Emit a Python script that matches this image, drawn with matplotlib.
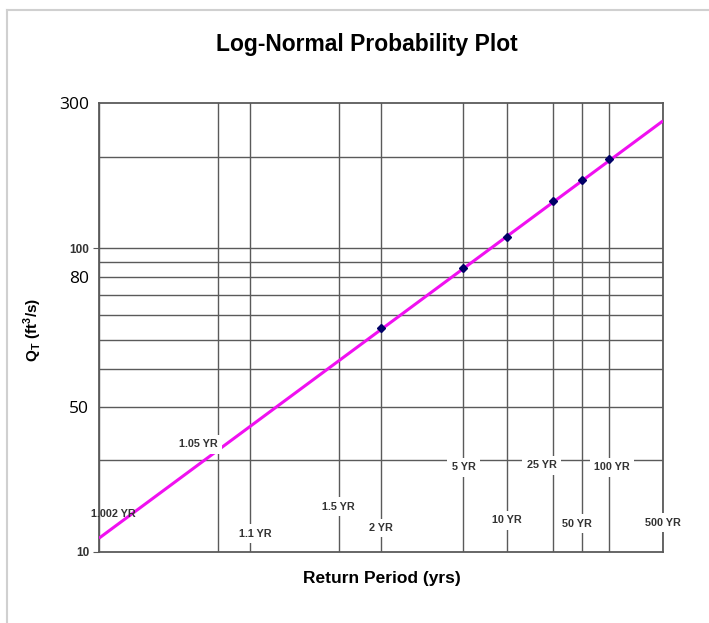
import numpy as np
import matplotlib
matplotlib.use("Agg")
import matplotlib.pyplot as plt
from matplotlib.lines import Line2D
from statistics import NormalDist

plt.rcParams['font.family'] = ['Liberation Sans', 'DejaVu Sans']
plt.rcParams['mathtext.fontset'] = 'custom'
plt.rcParams['mathtext.rm'] = 'Liberation Sans'
plt.rcParams['mathtext.bf'] = 'Liberation Sans:bold'

# return periods drawn as vertical grid lines (yrs)
periods = [1.002, 1.05, 1.1, 1.5, 2, 5, 10, 25, 50, 100, 500]
period_labels = ['1.002 YR', '1.05 YR', '1.1 YR', '1.5 YR', '2 YR', '5 YR',
                 '10 YR', '25 YR', '50 YR', '100 YR', '500 YR']

# observed points (return period, flow)
obs_T = [2, 5, 10, 25, 50, 100]
obs_Q = [54.5, 86.0, 108.7, 142.8, 167.4, 196.2]

# fitted log-normal line, end points
fit_T = [1.002, 500]
fit_Q = [11.1, 262]

# y axis
q_grid = [20, 30, 40, 50, 60, 70, 80, 90, 100, 200]
q_tick_pos = [10, 30, 80, 100, 300]
q_tick_labels = ['10', '50', '80', '100', '300']

_nd = NormalDist()


def period_to_z(T):
    T = np.asarray(T, dtype=float)
    p = 1.0 - 1.0 / np.clip(T, 1.0 + 1e-9, 1e12)
    p = np.clip(p, 1e-12, 1 - 1e-12)
    return np.vectorize(_nd.inv_cdf, otypes=[float])(p)


def z_to_period(z):
    z = np.asarray(z, dtype=float)
    cdf = np.vectorize(_nd.cdf, otypes=[float])(z)
    return 1.0 / np.clip(1.0 - cdf, 1e-12, None)


W, H = 709, 623
fig = plt.figure(figsize=(W / 100, H / 100), dpi=100)
ax = fig.add_axes([99 / W, 71 / H, 564 / W, 449 / H])

ax.set_xscale('function', functions=(period_to_z, z_to_period))
ax.set_yscale('log')
ax.set_xlim(1.002, 500)
ax.set_ylim(10, 300)

grid_col = '#5a5a5a'
ax.set_xticks(periods, labels=[''] * len(periods))
ax.set_yticks(q_tick_pos, labels=q_tick_labels)
ax.set_yticks(q_grid, minor=True)
ax.yaxis.remove_overlapping_locs = False
ax.yaxis.set_minor_formatter(plt.NullFormatter())
ax.tick_params(axis='both', which='both', length=0, pad=7, colors=grid_col)
ax.tick_params(axis='y', labelcolor='black')
ax.grid(True, axis='x', which='major', color=grid_col, lw=1.0)
ax.grid(True, axis='y', which='minor', color=grid_col, lw=1.0)
for s in ax.spines.values():
    s.set_color(grid_col)
    s.set_linewidth(1.3)

# tick label styles: original bold ones vs the larger plain ones
yticks = ax.yaxis.get_major_ticks()
for tick, lab in zip(yticks, q_tick_labels):
    if lab in ('10', '100'):
        tick.label1.set_fontsize(8.5)
        tick.label1.set_fontweight('bold')
        tick.label1.set_color('#333333')
        tick.tick1line.set_markersize(4)
    else:
        tick.label1.set_fontsize(12.5)
        tick.label1.set_fontfamily(['Open Sans', 'DejaVu Sans'])

ax.plot(fit_T, fit_Q, color='#f010f0', lw=2.2, zorder=3, solid_capstyle='butt')
ax.plot(obs_T, obs_Q, 'D', color='#000066', ms=4.5, zorder=4)

# return-period labels (layout only: y level and pixel shift)
lab_y = [13.3, 22.6, 11.5, 14.1, 12.0, 19.0, 12.7, 19.3, 12.4, 19.0, 12.5]
lab_dx = [14, -19, 5, 0, 0, 0, 0, -11, -5, 3, 0]
for T, txt, yq, dx in zip(periods, period_labels, lab_y, lab_dx):
    box = None if txt == '1.002 YR' else dict(boxstyle='square,pad=0.4', fc='white', ec='none')
    ax.annotate(txt, xy=(T, yq), xytext=(dx, 0), textcoords='offset pixels',
                ha='center', va='center', fontsize=7.8, fontweight='bold',
                color='#333333', bbox=box, zorder=5, annotation_clip=False)

fig.text(367 / W, 1 - 45 / H, 'Log-Normal Probability Plot', ha='center', va='center',
         fontsize=16.5, fontweight='bold')
fig.text(382 / W, 1 - 578 / H, 'Return Period (yrs)', ha='center', va='center',
         fontsize=12.5, fontweight='bold')
fig.text(33 / W, 1 - 330 / H, r'Q$_\mathbf{T}$ (ft$^\mathbf{3}$/s)', ha='center', va='center',
         rotation=90, fontsize=11, fontweight='bold')

# light frame on the top and left of the picture
fig.add_artist(Line2D([7 / W, 1], [1 - 10 / H, 1 - 10 / H], color='#d0d0d0', lw=1.5))
fig.add_artist(Line2D([7 / W, 7 / W], [0, 1 - 10 / H], color='#d0d0d0', lw=1.5))

fig.savefig('out.png', dpi=100)
